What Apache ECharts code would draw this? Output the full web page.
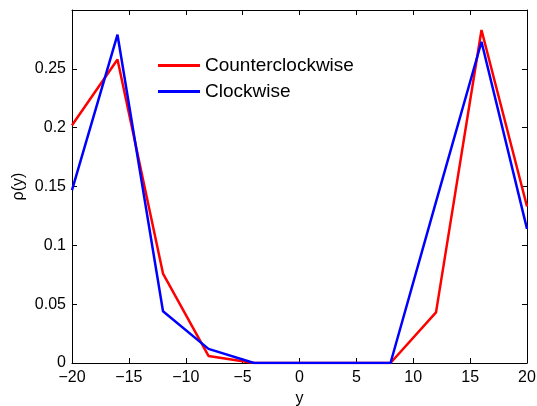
<!DOCTYPE html>
<html>
<head>
<meta charset="utf-8">
<script src="https://cdn.jsdelivr.net/npm/echarts@6/dist/echarts.min.js"></script>
<style>
html,body{margin:0;padding:0;background:#fff;}
#c{width:537px;height:406px;}
</style>
</head>
<body>
<div id="c"></div>
<script>
var xValues = [-20, -16, -12, -8, -4, 0, 4, 8, 12, 16, 20];
var counterclockwise = [0.202, 0.258, 0.076, 0.006, 0, 0, 0, 0, 0.043, 0.283, 0.133];
var clockwise = [0.147, 0.279, 0.044, 0.012, 0, 0, 0, 0, 0.137, 0.273, 0.114];
var seriesNames = ['Counterclockwise', 'Clockwise'];
var xTicks = [-20, -15, -10, -5, 0, 5, 10, 15, 20];
var yTicks = [0, 0.05, 0.1, 0.15, 0.2, 0.25];

var font = 'Liberation Sans, Arial, Helvetica, sans-serif';
function pairs(vals){ return xValues.map(function(x,i){ return [x, vals[i]]; }); }

var chart = echarts.init(document.getElementById('c'), null, {renderer:'canvas'});
var axisLine = {show:true, onZero:false, lineStyle:{color:'#000', width:1}};
var tickIn = {show:true, inside:true, length:5, lineStyle:{color:'#000', width:1}};
chart.setOption({
  animation:false,
  backgroundColor:'#fff',
  grid:{left:72, right:10, top:10, bottom:43, containLabel:false, outerBoundsMode:'none'},
  legend:{
    orient:'vertical', left:153, top:51,
    icon:'rect', itemWidth:42, itemHeight:3, itemGap:7,
    data:seriesNames,
    textStyle:{fontFamily:font, fontSize:19, color:'#000'},
    backgroundColor:'rgba(0,0,0,0)'
  },
  xAxis:[{
    type:'value', min:-20, max:20, interval:5, position:'bottom',
    axisLine:axisLine, axisTick:tickIn, splitLine:{show:false},
    axisLabel:{fontFamily:font, fontSize:16, color:'#000', margin:7,
      formatter:function(v){ return xTicks.indexOf(v) >= 0 ? String(v).replace('-', '\u2212') : ''; }},
    name:'y', nameLocation:'middle', nameGap:28, nameMoveOverlap:false,
    nameTextStyle:{fontFamily:font, fontSize:16, color:'#000'}
  },{
    type:'value', min:-20, max:20, interval:5, position:'top',
    axisLine:axisLine, axisTick:tickIn, axisLabel:{show:false}, splitLine:{show:false}
  }],
  yAxis:[{
    type:'value', min:0, max:0.3, interval:0.05, position:'left',
    axisLine:axisLine, axisTick:tickIn, splitLine:{show:false},
    axisLabel:{fontFamily:font, fontSize:16, color:'#000', margin:6,
      formatter:function(v){ var r = Math.round(v*100)/100; return yTicks.indexOf(r) >= 0 ? String(r) : ''; }},
    name:'\u03c1(y)', nameLocation:'middle', nameGap:45, nameRotate:90, nameMoveOverlap:false,
    nameTextStyle:{fontFamily:font, fontSize:16, color:'#000'}
  },{
    type:'value', min:0, max:0.3, interval:0.05, position:'right',
    axisLine:axisLine, axisTick:tickIn, axisLabel:{show:false}, splitLine:{show:false}
  }],
  series:[{
    name:seriesNames[0], type:'line', data:pairs(counterclockwise),
    showSymbol:false, symbol:'none', color:'#ff0000',
    lineStyle:{color:'#ff0000', width:2.5}
  },{
    name:seriesNames[1], type:'line', data:pairs(clockwise),
    showSymbol:false, symbol:'none', color:'#0000ff',
    lineStyle:{color:'#0000ff', width:2.5}
  }]
});
</script>
</body>
</html>
